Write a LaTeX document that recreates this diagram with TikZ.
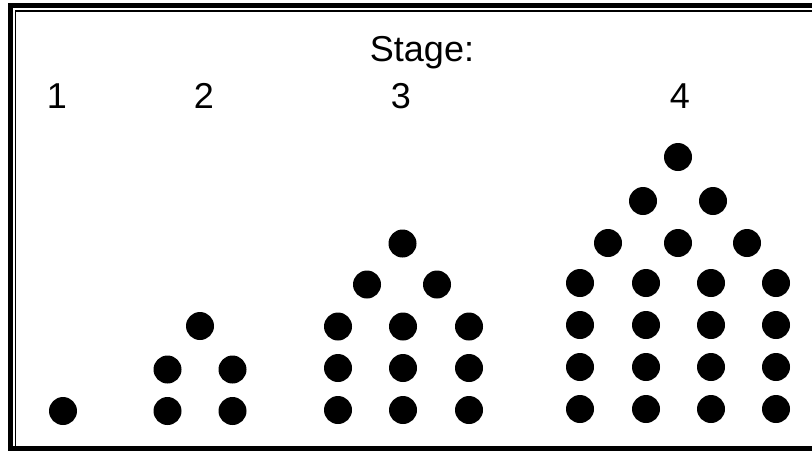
\documentclass[tikz,border=0pt]{standalone}
\usepackage{fontspec}
\setmainfont{Liberation Sans}
\begin{document}
\begin{tikzpicture}[x=1pt,y=-1pt,
  dot/.style={circle,fill=black,inner sep=0pt,minimum size=28pt},
  lbl/.style={anchor=base,inner sep=0pt,font=\fontsize{36}{40}\selectfont}]
\useasboundingbox (0,0) rectangle (812,451);
% frame: heavy outer rule and hairline inside it
\draw[line width=5pt] (812,5.5) -- (10.5,5.5) -- (10.5,448.5) -- (812,448.5);
\draw[line width=1.4pt] (812,10.8) -- (15.3,10.8) -- (15.3,446);
% headings
\node[lbl] (title) at (422,61) {Stage:};
\node[lbl] (n1) at (57,108) {1};
\node[lbl] (n2) at (204,108) {2};
\node[lbl] (n3) at (401,108) {3};
\node[lbl] (n4) at (680,108) {4};
% stage 1
\node[dot] (a1) at (63,411) {};
% stage 2
\node[dot] (b1) at (167.5,411) {};
\node[dot] (b2) at (232.5,411) {};
\node[dot] (b3) at (167.5,369.5) {};
\node[dot] (b4) at (232.5,369.5) {};
\node[dot] (b5) at (200,326) {};
% stage 3
\foreach \r/\y in {1/410,2/368,3/326.5}
  \foreach \c/\x in {1/338,2/403,3/469}
    \node[dot] (c\r\c) at (\x,\y) {};
\node[dot] (c41) at (367,284.5) {};
\node[dot] (c42) at (437,284.5) {};
\node[dot] (c5) at (402.5,243.5) {};
% stage 4
\foreach \r/\y in {1/409,2/367,3/325,4/283}
  \foreach \c/\x in {1/580,2/646,3/711,4/776}
    \node[dot] (d\r\c) at (\x,\y) {};
\node[dot] (d51) at (608,243) {};
\node[dot] (d52) at (678,243) {};
\node[dot] (d53) at (747,243) {};
\node[dot] (d61) at (643,201) {};
\node[dot] (d62) at (713,201) {};
\node[dot] (d7) at (678,157) {};
\end{tikzpicture}
\end{document}
